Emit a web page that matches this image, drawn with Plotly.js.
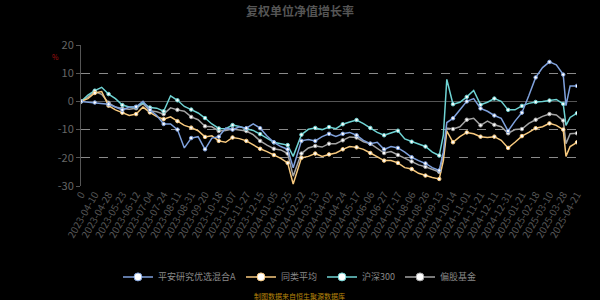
<!DOCTYPE html>
<html><head><meta charset="utf-8">
<script src="https://cdn.plot.ly/plotly-3.0.1.min.js"></script>
<style>html,body{margin:0;padding:0;background:#000;}#chart{width:600px;height:300px;}</style>
</head><body><div id="chart"></div>
<script>
// x positions measured in label intervals (0 = first label, 36 = last label)
const xPos = [0,0.5,1,1.5,2,2.5,3,3.5,4,4.5,5,5.5,6,6.5,7,7.5,8,8.5,9,9.5,10,10.5,11,11.5,12,12.5,13,13.5,14,14.5,15,15.4,16,16.5,17,17.5,18,18.5,19,19.5,20,20.5,21,21.5,22,22.5,23,23.5,24,24.5,25,25.5,26,26.3,26.55,27,27.5,28,28.5,29,29.5,30,30.5,31,31.5,32,32.5,33,33.5,34,34.5,35,35.2,35.5,36];
const tickLabels = ["0","2023-04-10","2023-04-28","2023-05-23","2023-06-12","2023-07-04","2023-07-24","2023-08-11","2023-08-31","2023-09-20","2023-10-18","2023-11-07","2023-11-27","2023-12-15","2024-01-05","2024-01-25","2024-02-22","2024-03-13","2024-04-02","2024-04-24","2024-05-17","2024-06-06","2024-06-27","2024-07-17","2024-08-06","2024-08-26","2024-09-13","2024-10-14","2024-11-01","2024-11-21","2024-12-11","2024-12-31","2025-01-21","2025-02-18","2025-03-10","2025-03-28","2025-04-21"];
const seriesNames = ["平安研究优选混合A","同类平均","沪深300","偏股基金"];
const fundA = [0,-0.2,-0.4,-0.6,-1.0,-2.0,-3.0,-2.0,-1.9,0,-3.0,-5.0,-8.0,-8.0,-10.0,-16.5,-13.0,-12.5,-17.0,-13.0,-12.5,-9.5,-10.0,-9.0,-9.5,-8.0,-9.5,-12.3,-14.5,-16.0,-17.0,-23.5,-14.0,-13.5,-14.0,-12.5,-11.5,-12.4,-11.5,-11.0,-12.0,-13.8,-15.0,-14.5,-17.0,-16.0,-16.5,-18.0,-19.8,-21.0,-22.0,-23.5,-24.5,-18.0,-7.5,-6.0,-3.0,0.0,1.0,-2.5,-3.5,-5.0,-6.0,-10.5,-7.0,-4.0,2.0,8.5,12.0,14.0,13.0,9.5,-1.5,5.5,5.5];
const peerAvg = [0,1.0,3.0,3.5,-1.5,-3.0,-4.0,-5.0,-4.5,-2.0,-3.9,-5.4,-6.3,-5.5,-7.0,-8.5,-9.3,-10.4,-12.6,-12.2,-14.0,-14.5,-12.8,-13.2,-14.0,-15.4,-16.8,-17.8,-19.0,-20.2,-21.8,-29.3,-20.0,-19.5,-18.5,-19.5,-18.8,-18.3,-17.0,-16.0,-16.3,-17.0,-18.3,-19.8,-21.0,-21.0,-21.8,-23.5,-24.0,-25.5,-26.3,-27.0,-27.5,-21.0,-10.5,-14.5,-12.5,-11.0,-11.5,-12.5,-12.8,-12.5,-13.8,-16.5,-14.5,-12.3,-11.0,-9.5,-9.0,-7.8,-8.5,-10.0,-19.5,-16.0,-14.5];
const hs300 = [0,2.2,3.8,5.0,2.6,1.0,-1.3,-2.0,-2.0,-0.5,-2.2,-2.4,-3.5,2.0,0.4,-1.8,-2.9,-4.1,-5.9,-8.0,-9.6,-9.7,-8.4,-8.9,-9.7,-10.3,-11.6,-13.0,-14.5,-15.0,-15.5,-19.5,-11.8,-9.9,-9.4,-10.0,-9.1,-9.7,-8.1,-7.3,-6.6,-7.9,-9.4,-11.0,-12.0,-11.2,-10.4,-13.3,-14.3,-15.1,-16.0,-18.0,-19.2,-12.0,7.8,-1.0,-0.3,1.6,3.9,-1.2,-0.3,1.0,0.0,-3.0,-3.0,-1.6,-0.7,-0.2,0.0,0.3,0.7,-0.9,-8.5,-5.7,-4.2];
const equityFund = [0,1.5,3.5,2.5,-0.5,-2.0,-2.5,-2.8,-2.4,-0.8,-3.3,-3.7,-4.5,-2.3,-3.0,-3.5,-5.5,-6.5,-8.8,-9.0,-10.5,-10.3,-9.8,-10.2,-10.5,-11.8,-14.0,-15.5,-16.8,-17.2,-18.5,-26.5,-18.5,-16.5,-15.8,-16.2,-15.0,-15.0,-13.8,-12.6,-12.8,-14.3,-15.0,-16.5,-18.3,-17.8,-19.0,-20.0,-21.3,-22.5,-23.2,-24.0,-25.0,-19.0,-9.5,-9.8,-9.0,-6.5,-6.0,-8.5,-7.0,-8.3,-9.0,-11.3,-10.0,-9.8,-7.8,-6.5,-5.3,-4.5,-4.8,-6.8,-15.0,-11.5,-11.3];
const yTicks = [20,10,0,-10,-20,-30];

const colors = ["#7fa1dc","#f7c97e","#6fd3d3","#a3a3a3"];
const allSeries = [fundA, peerAvg, hs300, equityFund];
const markIdx = xPos.map((v,i)=> Number.isInteger(v) ? i : -1).filter(i=>i>=0);
const font = "Noto Sans CJK SC, Noto Sans, sans-serif";
const yMin = -30, yMax = 20;

const traces = allSeries.map((ys,k)=>({
  type:'scatter', mode:'lines+markers', name:seriesNames[k],
  x:xPos, y:ys,
  line:{color:colors[k], width:1.5},
  marker:{size:8, color:'#ffffff', line:{color:colors[k], width:1}},
  selectedpoints: markIdx,
  selected:{marker:{size:3.5, opacity:1}},
  unselected:{marker:{opacity:0}},
  hoverinfo:'skip'
})).reverse();

const catIdx = tickLabels.map((t,i)=>i);
const layout = {
  width:600, height:300,
  paper_bgcolor:'#000', plot_bgcolor:'#000',
  margin:{l:81, r:23, t:45, b:114},
  font:{family:font, color:'#777'},
  title:{text:'复权单位净值增长率', x:0.5, xanchor:'center', y:0.96, yanchor:'middle', yref:'container',
         font:{size:12, color:'#555', family:font, weight:'bold'}},
  xaxis:{range:[0,36], tickmode:'array', tickvals:catIdx, ticktext:tickLabels,
         tickangle:-60, tickfont:{size:10, color:'#555', family:font},
         showgrid:false, zeroline:false, showline:false, ticks:'', fixedrange:true},
  xaxis2:{range:[0,36], overlaying:'x', anchor:'free', position:(0-yMin)/(yMax-yMin), side:'bottom',
          tickmode:'array', tickvals:catIdx, showticklabels:false, ticks:'outside', ticklen:3, tickcolor:'#555',
          showgrid:false, zeroline:false, showline:false, fixedrange:true},
  yaxis:{range:[yMin,yMax], tickmode:'array', tickvals:yTicks, ticktext:yTicks.map(String),
         tickfont:{size:11, color:'#666', family:font},
         showgrid:true, gridcolor:'#8a8a8a', griddash:'dash', gridwidth:1,
         zeroline:true, zerolinecolor:'#555', zerolinewidth:1,
         showline:true, linecolor:'#555', linewidth:1, ticks:'outside', ticklen:4, tickcolor:'#555', fixedrange:true},
  showlegend:true,
  legend:{orientation:'h', x:0.4415, xanchor:'center', yref:'container', y:0.077, yanchor:'middle',
          font:{size:9, color:'#888', family:font}, traceorder:'reversed', bgcolor:'rgba(0,0,0,0)'},
  annotations:[
    {text:'%', xref:'paper', yref:'paper', x:-0.052, y:0.915, xanchor:'center', yanchor:'middle', showarrow:false, font:{size:7, color:'#a01010', family:font}},
    {text:'制图数据来自恒生聚源数据库', xref:'paper', yref:'paper', x:0.4415, y:-0.78, xanchor:'center', yanchor:'middle', showarrow:false,
     font:{size:7, color:'#b8860b', family:font}}
  ]
};
Plotly.newPlot('chart', traces, layout, {displayModeBar:false, staticPlot:true});
</script></body></html>
